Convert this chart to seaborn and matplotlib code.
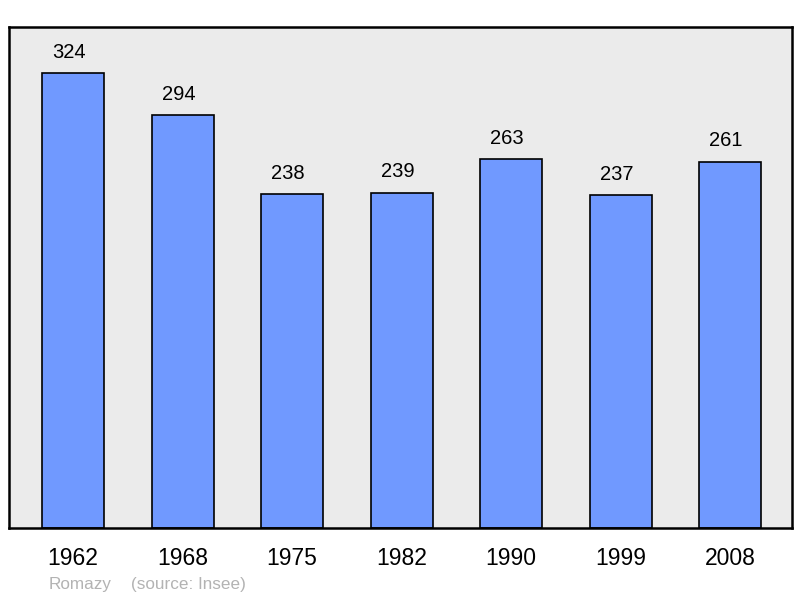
import matplotlib
matplotlib.use("Agg")
import matplotlib.pyplot as plt
import seaborn as sns
import pandas as pd

years = ["1962", "1968", "1975", "1982", "1990", "1999", "2008"]
population = [324, 294, 238, 239, 263, 237, 261]
commune = "Romazy"
source = "(source: Insee)"

sns.set_style("white")
plt.rcParams["font.family"] = ["Liberation Sans", "DejaVu Sans"]

df = pd.DataFrame({"year": years, "pop": population})

fig = plt.figure(figsize=(8, 5.98), dpi=100)
ax = fig.add_axes([9/800, 1 - 528/598, (792-9)/800, (528-27)/598])
ax.set_facecolor("#ebebeb")

sns.barplot(data=df, x="year", y="pop", ax=ax, color="#7099ff", saturation=1,
            width=0.567, edgecolor="black", linewidth=1.2)

ax.set_xlim(-0.585, 6.565)
ax.set_ylim(0, 357)
ax.set_yticks([])
ax.set_xlabel("")
ax.set_ylabel("")
ax.tick_params(axis="x", length=0, pad=13.5, labelsize=16.5, labelcolor="black")
for s in ax.spines.values():
    s.set_linewidth(1.8)
    s.set_color("black")

for i, v in enumerate(population):
    ax.annotate(str(v), (i, v), xytext=(-3, 15), textcoords="offset points",
                ha="center", va="center", fontsize=14.5, color="black")

fig.text(49/800, 1 - 584/598, commune, color="#b3b3b3", fontsize=12.3, va="center", ha="left")
fig.text(131/800, 1 - 584/598, source, color="#b3b3b3", fontsize=12.3, va="center", ha="left")

fig.savefig("out.png", dpi=100)
